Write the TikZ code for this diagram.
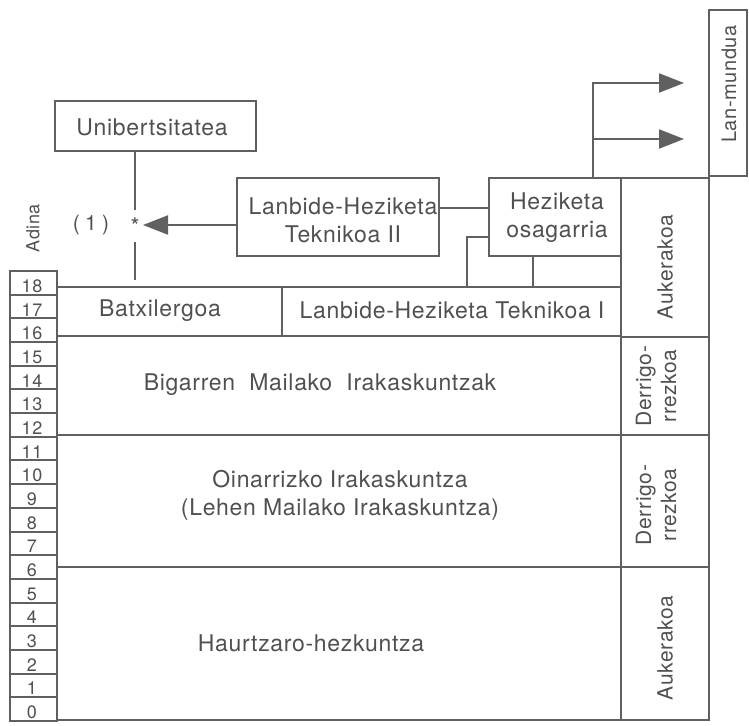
\documentclass[tikz,border=0pt]{standalone}
\usepackage{fontspec}
\setmainfont{TeX Gyre Heros}[LetterSpace=3]
\usetikzlibrary{arrows.meta}
\definecolor{ink}{HTML}{606060}
\definecolor{txt}{HTML}{505050}
\tikzset{
  every node/.style={text=txt, inner sep=0pt, outer sep=0pt},
  ln/.style={draw=ink, line width=2pt},
  rect/.style 2 args={draw=ink, line width=2pt, rectangle, minimum width=#1, minimum height=#2},
  big/.style={font=\fontsize{23}{28}\selectfont},
  side/.style={font=\fontsize{21}{25}\selectfont, rotate=90, align=center},
  agenum/.style={font=\fontsize{18}{20}\selectfont},
  arr/.style={-{Triangle[length=25pt,width=19pt]}}
}
\begin{document}
\begin{tikzpicture}[x=1pt,y=-1pt]
\useasboundingbox (0,0) rectangle (749,725);
% Lan-mundua
\node[rect={166pt}{38pt}, rotate=90] (lan) at (728,93) {};
\node[side, font=\fontsize{20}{24}\selectfont] (lantxt) at (729,84) {Lan-mundua};
% right column
\node[rect={159pt}{88pt}, rotate=90] (rc1) at (665,257.5) {};
\node[rect={98pt}{88pt}, rotate=90] (rc2) at (665,386) {};
\node[rect={132pt}{88pt}, rotate=90] (rc3) at (665,501) {};
\node[rect={153pt}{88pt}, rotate=90] (rc4) at (665,643.5) {};
\node[side] (rt1) at (665,267) {Aukerakoa};
\node[side] (rt2) at (656,386) {Derrigo-\\rrezkoa};
\node[side] (rt3) at (656,505) {Derrigo-\\rrezkoa};
\node[side] (rt4) at (665,648) {Aukerakoa};
% main table
\node[rect={225pt}{49pt}] (bat) at (169.5,311.5) {};
\node[rect={339pt}{49pt}] (lht1) at (451.5,311.5) {};
\node[rect={564pt}{99pt}] (bigc) at (339,385.5) {};
\node[rect={564pt}{132pt}] (oin) at (339,501) {};
\node[rect={564pt}{153pt}] (haur) at (339,643.5) {};
\node[big] (battxt) at (160,311) {Batxilergoa};
\node[big] (lht1txt) at (452,310) {Lanbide-Heziketa Teknikoa I};
\node[big] (bigtxt) at (320,385) {Bigarren\ \ Mailako\ \ Irakaskuntzak};
\node[big, align=center] (ointxt) at (340,495) {Oinarrizko Irakaskuntza\\(Lehen Mailako Irakaskuntza)};
\node[big] (haurtxt) at (311,643) {Haurtzaro-hezkuntza};
% upper boxes
\node[rect={202pt}{78pt}] (lht2) at (338,217) {};
\node[big, align=center] (lht2txt) at (343,220) {Lanbide-Heziketa\\Teknikoa II};
\node[rect={132pt}{78pt}] (hez) at (555,217) {};
\node[big, align=center] (heztxt) at (557,218) {Heziketa\\osagarria};
\node[rect={201pt}{50pt}] (uni) at (155.5,126) {};
\node[big] (unitxt) at (152,127) {Unibertsitatea};
% age column
\node[font=\fontsize{18}{20}\selectfont, rotate=90] (adina) at (33,228) {Adina};
\foreach \i in {0,...,18}{
  \pgfmathsetmacro{\yc}{721-(\i+0.5)*23.684}
  \node[rect={47pt}{23.684pt}] (a\i) at (33.5,\yc) {};
  \node[agenum, anchor=base] (n\i) at (32,\yc+9.5) {\i};
}
% star and (1)
\node[big, minimum height=32pt, minimum width=16pt] (star) at (135,226) {*};
\node[font=\fontsize{21}{24}\selectfont\addfontfeature{LetterSpace=25}] (one) at (91,225) {(1)};
% connectors
\draw[ln] (star.north |- uni.south) -- (star.north);
\coordinate (sb) at (135,280);
\draw[ln] (star.south) -- (sb);
\draw[ln, arr] ([yshift=-8pt]lht2.west) -- ([yshift=1pt]star.east);
\draw[ln] ([yshift=9pt]lht2.east) -- ([yshift=9pt]hez.west);
\coordinate (c1) at (467,287);
\draw[ln] (c1) |- ([yshift=-20pt]hez.west);
\draw[ln] ([xshift=-22pt]hez.south) -- ([xshift=-22pt]hez.south |- lht1.north);
\coordinate (t1) at (684,83);
\coordinate (t2) at (684,139);
\draw[ln, arr] ([xshift=38pt]hez.north) |- (t1);
\draw[ln, arr] ([xshift=38pt]hez.north |- t2) -- (t2);
\end{tikzpicture}
\end{document}
